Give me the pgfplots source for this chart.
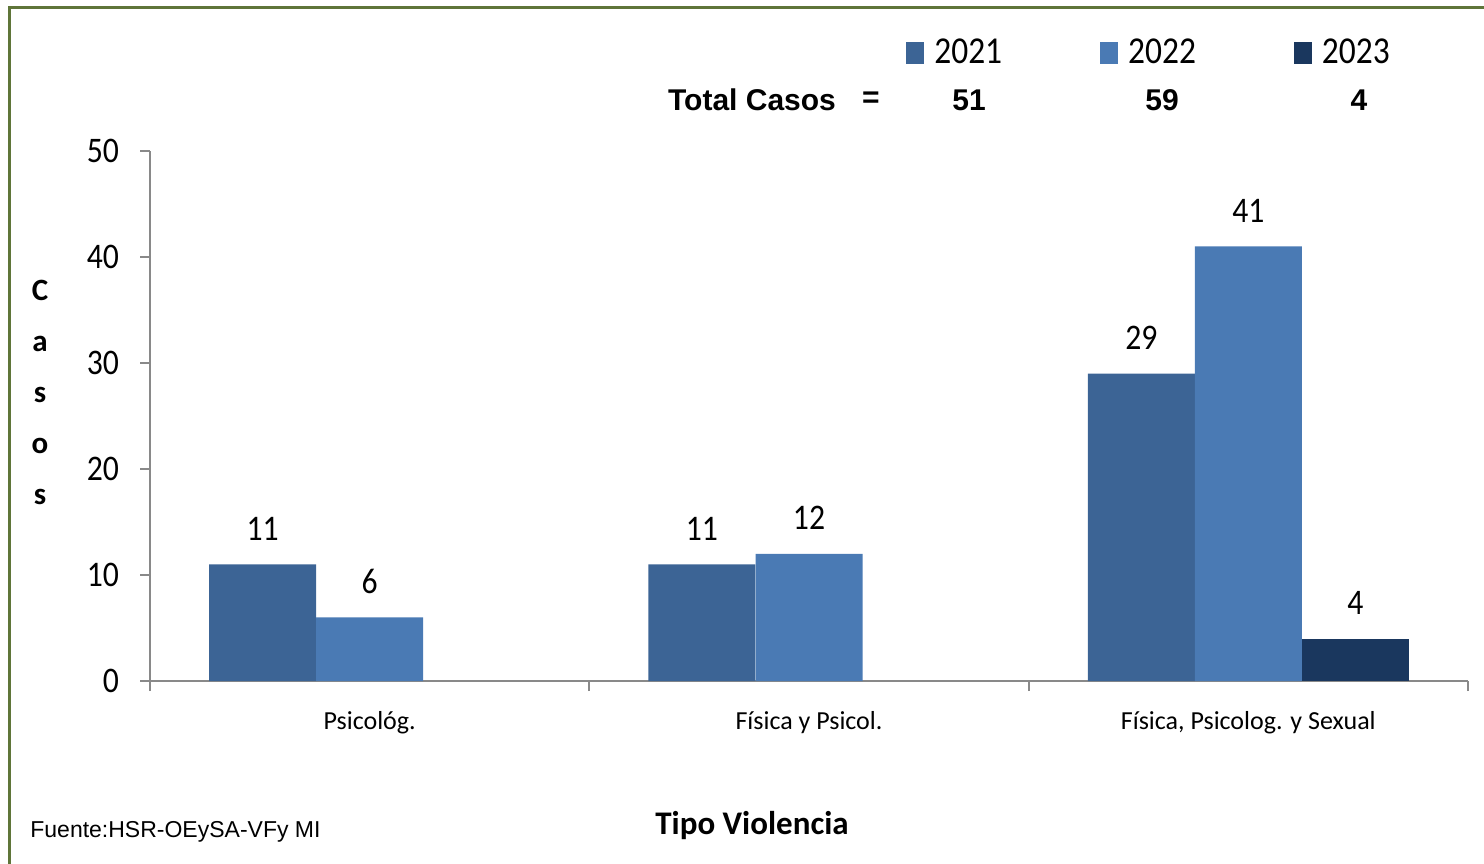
\documentclass[border=0pt]{standalone}
\usepackage{pgfplots}
\pgfplotsset{compat=1.18}
\usepackage{fontspec}
\setmainfont{Carlito}
\newfontfamily\calc[FakeStretch=0.88]{Carlito}
\newfontfamily\arialf{Liberation Sans}
\definecolor{cA}{HTML}{3C6495}
\definecolor{cB}{HTML}{4A7AB4}
\definecolor{cC}{HTML}{1A375E}
\definecolor{axgray}{HTML}{898989}
\definecolor{olive}{HTML}{5F7539}
\newcommand{\px}[2]{({#1*0.5pt},{(863-#2)*0.5pt})}
\begin{document}
\begin{tikzpicture}
\useasboundingbox (0,0) rectangle (742pt,431.5pt);
\draw[olive, line width=1.5pt] \px{9}{870} -- \px{9}{8} -- \px{1490}{8};
\begin{axis}[
  at={(75pt,91pt)}, anchor=south west,
  scale only axis, width=659pt, height=265pt,
  xmin=-0.5, xmax=2.5, ymin=0, ymax=50,
  axis x line*=bottom, axis y line*=left,
  axis line style={axgray, line width=1pt, -},
  tick style={axgray, line width=1pt},
  tick align=outside, major tick length=5pt,
  ytick={0,10,20,30,40,50},
  /pgf/number format/assume math mode=true,
  yticklabel style={font=\calc\fontsize{18}{18}\selectfont, xshift=-7pt},
  xtick={-0.5,0.5,1.5,2.5}, xticklabels={},
  extra x ticks={0,1,2},
  extra x tick labels={Psicológ., Física y Psicol., {Física, Psicolog. y Sexual}},
  extra x tick style={major tick length=0pt, xticklabel style={font=\fontsize{13}{13}\selectfont, yshift=-11.5pt}},
  nodes near coords,
  every node near coord/.append style={font=\calc\fontsize{18}{18}\selectfont, anchor=base, yshift=12pt, black},
  legend columns=3,
  legend style={draw=none, fill=none, at={(axis description cs:0.5690,1.185)}, anchor=west,
    font=\calc\fontsize{19}{19}\selectfont,
    /tikz/every odd column/.append style={column sep=3pt},
    /tikz/every even column/.append style={column sep=47pt},
    cells={anchor=west}},
  legend image code/.code={\fill[#1] (0pt,-5.5pt) rectangle (9pt,5.5pt);},
  clip=false,
]
\addplot[ybar, bar width=53.5pt, bar shift=0pt, fill=cA, draw=none] coordinates {(-0.2436,11) (0.7564,11) (1.7564,29)};
\addplot[ybar, bar width=53.5pt, bar shift=0pt, fill=cB, draw=none] coordinates {(0,6) (1,12) (2,41)};
\addplot[ybar, bar width=53.5pt, bar shift=0pt, fill=cC, draw=none] coordinates {(2.2436,4)};
\legend{2021,2022,2023}
\end{axis}
\node[font=\arialf\bfseries\fontsize{15}{15}\selectfont, anchor=center] at \px{752}{100} {Total Casos};
\node[font=\arialf\bfseries\fontsize{15}{15}\selectfont] at \px{871}{100} {=};
\node[font=\arialf\bfseries\fontsize{15}{15}\selectfont] at \px{969}{100} {51};
\node[font=\arialf\bfseries\fontsize{15}{15}\selectfont] at \px{1162}{100} {59};
\node[font=\arialf\bfseries\fontsize{15}{15}\selectfont] at \px{1359}{100} {4};
\node[font=\bfseries\fontsize{15.5}{25.5}\selectfont, align=center] at \px{40}{392} {C\\a\\s\\o\\s};
\node[font=\bfseries\fontsize{16.5}{16.5}\selectfont] at \px{752}{826} {Tipo Violencia};
\node[font=\arialf\fontsize{11.5}{11.5}\selectfont, anchor=west, inner sep=0pt] at \px{30}{832} {Fuente:HSR-OEySA-VFy MI};
\end{tikzpicture}
\end{document}
